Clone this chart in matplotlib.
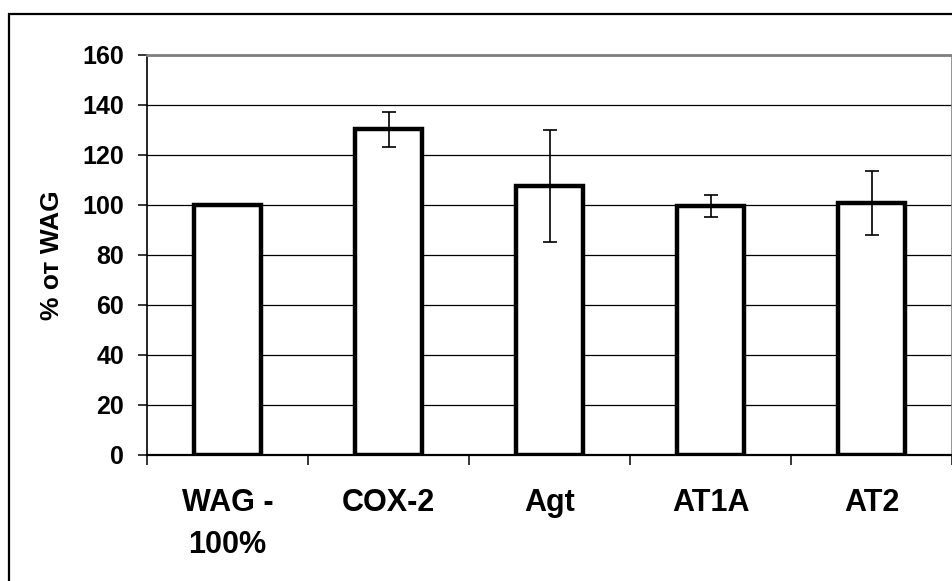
# bar chart: % of WAG per gene, with error bars

import matplotlib.pyplot as plt
from matplotlib.patches import Rectangle

labels = ["WAG -\n100%", "COX-2", "Agt", "AT1A", "AT2"]
values = [100, 130.3, 107.7, 99.6, 100.7]
errors = [0, 7.0, 22.4, 4.5, 12.8]
yticks = [0, 20, 40, 60, 80, 100, 120, 140, 160]

plt.rcParams['font.family'] = ['Liberation Sans', 'DejaVu Sans']
plt.rcParams['font.weight'] = 'bold'

fig = plt.figure(figsize=(9.52, 5.81), dpi=100)
ax = fig.add_axes([147/952, 1 - 455/581, 805/952, 400/581])

x = list(range(len(labels)))
ax.bar(x, values, width=0.42, color="white", edgecolor="black", linewidth=3.2, zorder=3)
ax.errorbar([i for i, e in zip(x, errors) if e > 0],
            [v for v, e in zip(values, errors) if e > 0],
            yerr=[e for e in errors if e > 0],
            fmt="none", ecolor="black", elinewidth=1.2, capsize=5.3, capthick=1.2, zorder=4)

ax.set_xlim(-0.5, len(labels) - 0.5)
ax.set_ylim(0, 160)
ax.set_yticks(yticks)
ax.yaxis.grid(True, color="black", linewidth=0.9, zorder=0)
ax.set_axisbelow(True)

# category boundaries as major ticks, names on minor ticks
ax.set_xticks([i + 0.5 for i in range(-1, len(labels))], minor=False)
ax.set_xticklabels([])
ax.set_xticks(x, minor=True)
ax.set_xticklabels(labels, minor=True, fontsize=22, fontweight="bold", linespacing=1.5)
ax.tick_params(axis="x", which="major", length=7, width=1.1, direction="out")
ax.tick_params(axis="x", which="minor", length=0, pad=24)
ax.tick_params(axis="y", length=6.5, width=1.1, pad=10, labelsize=18)
for t in ax.get_yticklabels():
    t.set_fontweight("bold")

ax.spines["left"].set_color("black")
ax.spines["left"].set_linewidth(1.2)
ax.spines["bottom"].set_color("black")
ax.spines["bottom"].set_linewidth(1.6)
ax.spines["top"].set_color("#808080")
ax.spines["top"].set_linewidth(2.0)
ax.spines["right"].set_color("#808080")
ax.spines["right"].set_linewidth(1.2)

ax.set_ylabel("% от WAG", fontsize=19, fontweight="bold", labelpad=13)

# outer chart border
fig.patches.append(Rectangle((9/952, -0.01), 1.0, 1 - 14/581 + 0.01, transform=fig.transFigure,
                             fill=False, edgecolor="black", linewidth=1.6))

fig.savefig("out.png", dpi=100)
